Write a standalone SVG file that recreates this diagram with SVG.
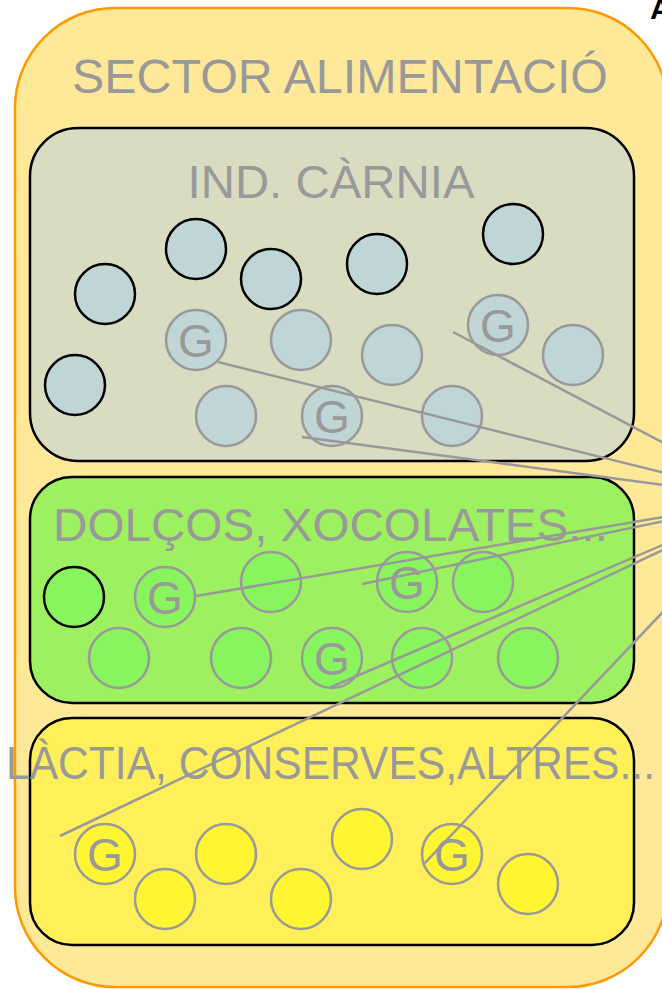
<svg xmlns="http://www.w3.org/2000/svg" width="662" height="989" viewBox="0 0 662 989">
<style>
.box{stroke:#000;stroke-width:2.5}
.lbl{font-family:"Liberation Sans",Arial,sans-serif;fill:#999;text-anchor:middle}
.g{font-family:"Liberation Sans",Arial,sans-serif;fill:#999;font-size:46px;text-anchor:middle}
.cb{fill:#BFD5D6}
.cg{fill:#88F55E}
.cy{fill:#FFF533}
.k{stroke:#000;stroke-width:2.5}
.s{stroke:#999;stroke-width:2.5}
.ln{stroke:#999;stroke-width:2.5;fill:none}
</style>
<rect width="662" height="989" fill="#fff"/>
<g id="sector">
<rect x="15" y="8" width="653" height="979" rx="100" ry="100" fill="#FFE999" stroke="#FF9900" stroke-width="2.5"/>
<text class="lbl" x="340" y="93" font-size="47.5" textLength="536" lengthAdjust="spacingAndGlyphs">SECTOR ALIMENTACIÓ</text>
</g>
<text x="650" y="19" font-family="Liberation Sans,Arial,sans-serif" font-weight="bold" font-size="30" fill="#000">A</text>
<g id="carnia">
<rect class="box" x="30" y="128" width="604" height="333" rx="48" fill="#D9DCC0"/>
<text class="lbl" x="331" y="198" font-size="47" textLength="287" lengthAdjust="spacingAndGlyphs">IND. CÀRNIA</text>
<circle class="cb k" cx="105" cy="294" r="30"/>
<circle class="cb k" cx="196" cy="249" r="30"/>
<circle class="cb k" cx="271" cy="279" r="30"/>
<circle class="cb k" cx="377" cy="264" r="30"/>
<circle class="cb k" cx="513" cy="234" r="30"/>
<circle class="cb k" cx="75" cy="385" r="30"/>
<circle class="cb s" cx="196" cy="340" r="30"/><text class="g" x="196" y="357">G</text>
<circle class="cb s" cx="301" cy="340" r="30"/>
<circle class="cb s" cx="392" cy="355" r="30"/>
<circle class="cb s" cx="573" cy="355" r="30"/>
<circle class="cb s" cx="498" cy="325" r="30"/><text class="g" x="498" y="342">G</text>
<circle class="cb s" cx="226" cy="416" r="30"/>
<circle class="cb s" cx="332" cy="416" r="30"/><text class="g" x="332" y="433">G</text>
<circle class="cb s" cx="452" cy="416" r="30"/>
</g>
<g id="dolcos">
<rect class="box" x="30" y="477" width="604" height="226" rx="42" fill="#9DF060"/>
<text class="lbl" x="330.5" y="541" font-size="46" textLength="555" lengthAdjust="spacingAndGlyphs">DOLÇOS, XOCOLATES...</text>
<circle class="cg k" cx="74" cy="597" r="30"/>
<circle class="cg s" cx="165" cy="597" r="30"/><text class="g" x="165" y="614">G</text>
<circle class="cg s" cx="271" cy="582" r="30"/>
<circle class="cg s" cx="407" cy="582" r="30"/><text class="g" x="407" y="599">G</text>
<circle class="cg s" cx="483" cy="582" r="30"/>
<circle class="cg s" cx="119" cy="658" r="30"/>
<circle class="cg s" cx="241" cy="658" r="30"/>
<circle class="cg s" cx="332" cy="658" r="30"/><text class="g" x="332" y="675">G</text>
<circle class="cg s" cx="422" cy="658" r="30"/>
<circle class="cg s" cx="528" cy="658" r="30"/>
</g>
<g id="lactia">
<rect class="box" x="30" y="718" width="604" height="227" rx="42" fill="#FFF05A"/>
<text class="lbl" x="330.5" y="779" font-size="46" textLength="649" lengthAdjust="spacingAndGlyphs">LÀCTIA, CONSERVES,ALTRES...</text>
<circle class="cy s" cx="105" cy="854" r="30"/><text class="g" x="105" y="871">G</text>
<circle class="cy s" cx="165" cy="899" r="30"/>
<circle class="cy s" cx="226" cy="854" r="30"/>
<circle class="cy s" cx="301" cy="899" r="30"/>
<circle class="cy s" cx="362" cy="839" r="30"/>
<circle class="cy s" cx="452" cy="854" r="30"/><text class="g" x="452" y="871">G</text>
<circle class="cy s" cx="528" cy="884" r="30"/>
</g>
<g id="connectors">
<line class="ln" x1="453" y1="332" x2="770" y2="499"/>
<line class="ln" x1="218" y1="362" x2="770" y2="499"/>
<line class="ln" x1="302" y1="437" x2="770" y2="499"/>
<line class="ln" x1="196" y1="596" x2="770" y2="499"/>
<line class="ln" x1="362" y1="584" x2="770" y2="499"/>
<line class="ln" x1="331" y1="687" x2="770" y2="499"/>
<line class="ln" x1="60" y1="836" x2="770" y2="499"/>
<line class="ln" x1="423" y1="865" x2="770" y2="499"/>
</g>
</svg>
